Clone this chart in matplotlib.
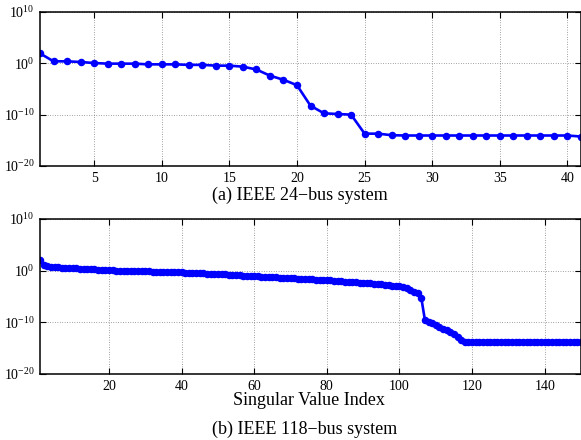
import numpy as np
import matplotlib
matplotlib.use("Agg")
import matplotlib.pyplot as plt
from matplotlib.ticker import LogFormatterMathtext, NullLocator

plt.rcParams['font.family'] = ['Liberation Serif', 'DejaVu Serif']
plt.rcParams['mathtext.fontset'] = 'stix'

# log10 dei valori singolari
exp_24 = [1.94, 0.39, 0.39, 0.26, 0.06, -0.06, -0.06, -0.06, -0.2, -0.2,
          -0.2, -0.3, -0.3, -0.45, -0.45, -0.65, -1.2, -2.4, -3.2, -4.26,
          -8.26, -9.74, -9.87, -10.0, -13.7, -13.7, -14.0, -14.06, -14.06, -14.06,
          -14.06, -14.06, -14.06, -14.06, -14.06, -14.06, -14.06, -14.06, -14.06, -14.06,
          -14.26]

exp_118 = [2.1, 1.0, 0.85, 0.78, 0.72, 0.66, 0.6, 0.55, 0.5, 0.46,
           0.42, 0.38, 0.35, 0.31, 0.28, 0.24, 0.2, 0.16, 0.12, 0.08,
           0.05, 0.02, 0.0, -0.02, -0.04, -0.06, -0.08, -0.1, -0.12, -0.14,
           -0.16, -0.18, -0.2, -0.22, -0.24, -0.26, -0.28, -0.3, -0.32, -0.34,
           -0.37, -0.4, -0.43, -0.46, -0.49, -0.52, -0.55, -0.58, -0.62, -0.66,
           -0.7, -0.74, -0.78, -0.82, -0.86, -0.9, -0.94, -0.98, -1.02, -1.06,
           -1.1, -1.14, -1.18, -1.22, -1.26, -1.3, -1.34, -1.38, -1.42, -1.46,
           -1.5, -1.54, -1.58, -1.62, -1.66, -1.7, -1.74, -1.78, -1.82, -1.86,
           -1.9, -1.95, -2.0, -2.05, -2.1, -2.15, -2.2, -2.25, -2.3, -2.36,
           -2.42, -2.48, -2.54, -2.6, -2.66, -2.72, -2.8, -2.88, -2.96, -3.05,
           -3.2, -3.45, -3.75, -4.05, -4.35, -5.2, -9.5, -9.9, -10.2, -10.5,
           -10.85, -11.2, -11.55, -11.9, -12.3, -12.75, -13.4, -13.8, -13.85, -13.85,
           -13.85, -13.85, -13.85, -13.85, -13.85, -13.85, -13.85, -13.85, -13.85, -13.85,
           -13.85, -13.85, -13.85, -13.85, -13.85, -13.85, -13.85, -13.85, -13.85, -13.85,
           -13.85, -13.85, -13.85, -13.85, -13.85, -13.85, -13.85, -13.85, -13.85, -13.85]

xticks_24 = [5, 10, 15, 20, 25, 30, 35, 40]
xticks_118 = [20, 40, 60, 80, 100, 120, 140]
yticks = [1e-20, 1e-10, 1e0, 1e10]

fig = plt.figure(figsize=(5.81, 4.40), dpi=100)
ax1 = fig.add_axes([40/581, 1-166/440, 1-40/581, 154/440])
ax2 = fig.add_axes([40/581, 1-374/440, 1-40/581, 155/440])

def disegna(ax, esponenti, xmax, xticks):
    x = np.arange(1, len(esponenti)+1)
    y = 10.0**np.array(esponenti)
    ax.plot(x, y, color=(0, 0, 1), lw=1.9, marker='o', ms=4.4, mfc=(0, 0, 1), mec=(0, 0, 1))
    ax.set_yscale('log')
    ax.set_ylim(1e-20, 1e10)
    ax.set_xlim(1, xmax)
    ax.set_yticks(yticks)
    ax.yaxis.set_major_formatter(LogFormatterMathtext())
    ax.yaxis.set_minor_locator(NullLocator())
    ax.set_xticks(xticks)
    ax.grid(True, linestyle=(0, (1, 2.5)), color='0.3', lw=0.5)
    ax.tick_params(direction='in', top=True, right=True, length=4, width=0.8, labelsize=10, pad=4)
    for s in ax.spines.values():
        s.set_linewidth(1.1)

disegna(ax1, exp_24, 41, xticks_24)
disegna(ax2, exp_118, 150, xticks_118)

fig.text(300/581, 1-195/440, "(a) IEEE 24\u2212bus system", ha='center', va='center', fontsize=13)
fig.text(309/581, 1-400/440, "Singular Value Index", ha='center', va='center', fontsize=13)
fig.text(305/581, 1-429/440, "(b) IEEE 118\u2212bus system", ha='center', va='center', fontsize=13)

plt.savefig("out.png", dpi=100)
